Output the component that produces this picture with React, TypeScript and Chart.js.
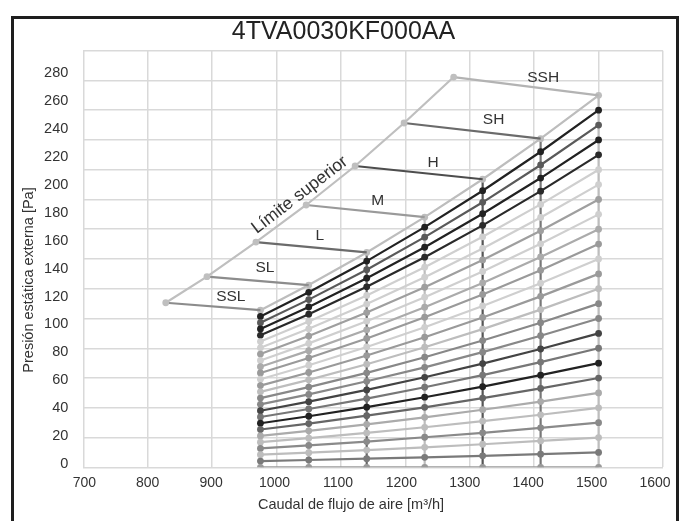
import React, { useEffect, useRef } from 'react';
import { Chart, registerables } from 'chart.js';

Chart.register(...registerables);

const FONT = '"Liberation Sans", Arial, Helvetica, sans-serif';

const chartTitle = '4TVA0030KF000AA';
const xAxisTitle = 'Caudal de flujo de aire [m³/h]';
const yAxisTitle = 'Presión estática externa [Pa]';

const xTicks = [700, 800, 900, 1000, 1100, 1200, 1300, 1400, 1500, 1600];
const yTicks = [0, 20, 40, 60, 80, 100, 120, 140, 160, 180, 200, 220, 240, 260, 280];

// airflow columns where every system curve has a point [m3/h]
const flowColumns = [975, 1050, 1140, 1230, 1320, 1410, 1500];

// system curves, bottom (0) to top, pressure [Pa] at each flow column
const systemCurves: number[][] = [
  [0, 0, 0, 0, 0, 0, 0],
  [4.2, 4.9, 5.8, 6.7, 7.7, 8.8, 10],
  [8.5, 9.8, 11.6, 13.4, 15.5, 17.7, 20],
  [12.7, 14.7, 17.3, 20.2, 23.2, 26.5, 30],
  [16.9, 19.6, 23.1, 26.9, 31.0, 35.3, 40],
  [21.1, 24.5, 28.9, 33.6, 38.7, 44.2, 50],
  [25.4, 29.4, 34.7, 40.3, 46.5, 53.0, 60],
  [29.6, 34.3, 40.4, 47.1, 54.2, 61.9, 70],
  [33.8, 39.2, 46.2, 53.8, 62.0, 70.7, 80],
  [38.0, 44.1, 52.0, 60.5, 69.7, 79.5, 90],
  [42.3, 49.0, 57.8, 67.2, 77.4, 88.4, 100],
  [46.5, 53.9, 63.5, 74.0, 85.2, 97.2, 110],
  [50.7, 58.8, 69.3, 80.7, 92.9, 106.0, 120],
  [54.9, 63.7, 75.1, 87.4, 100.7, 114.9, 130],
  [59.2, 68.6, 80.9, 94.1, 108.4, 123.7, 140],
  [63.4, 73.5, 86.6, 100.9, 116.2, 132.5, 150],
  [67.6, 78.4, 92.4, 107.6, 123.9, 141.4, 160],
  [71.8, 83.3, 98.2, 114.3, 131.6, 150.2, 170],
  [76.1, 88.2, 104.0, 121.0, 139.4, 159.0, 180],
  [80.3, 93.1, 109.7, 127.8, 147.1, 167.9, 190],
  [84.5, 98.0, 115.5, 134.5, 154.9, 176.7, 200],
  [88.7, 102.9, 121.3, 141.2, 162.6, 185.6, 210],
  [93.0, 107.8, 127.1, 147.9, 170.4, 194.4, 220],
  [97.2, 112.7, 132.8, 154.7, 178.1, 203.2, 230],
  [101.4, 117.6, 138.6, 161.4, 185.9, 212.1, 240],
  [105.6, 122.5, 144.4, 168.1, 193.6, 220.9, 250],
];

const curveColors = [
  '#9a9a9a', '#7a7a7a', '#bdbdbd', '#8a8a8a', '#bdbdbd', '#ababab', '#666666',
  '#222222', '#777777', '#444444', '#888888', '#888888', '#bdbdbd', '#9a9a9a',
  '#cfcfcf', '#9a9a9a', '#ababab', '#cfcfcf', '#9f9f9f', '#cfcfcf', '#cfcfcf',
  '#2a2a2a', '#222222', '#5a5a5a', '#222222', '#bdbdbd',
];

const columnColors = ['#999999', '#bdbdbd', '#666666', '#bdbdbd', '#555555', '#777777', '#bdbdbd'];

// upper limit ("Límite superior") points per fan speed
const speedNames = ['SSL', 'SL', 'L', 'M', 'H', 'SH', 'SSH'];
const limitFlow = [828, 892, 968, 1046, 1122, 1198, 1275];
const limitPressure = [110.6, 128.1, 151.4, 176.3, 202.5, 231.4, 262.3];
const connectorColors = ['#8c8c8c', '#8c8c8c', '#6b6b6b', '#9a9a9a', '#4d4d4d', '#6b6b6b', '#b3b3b3'];

// speed label anchors (data units)
const labelFlow = [929, 982, 1067, 1157, 1243, 1337, 1414];
const labelPressure = [114.4, 134, 155.4, 179, 204.5, 233.4, 261.6];

const limitCaption = 'Límite superior';
const limitCaptionFlow = 1036;
const limitCaptionPressure = 183;

const textPlugin = {
  id: 'customTexts',
  afterDatasetsDraw(chart: any) {
    const { ctx } = chart;
    const x = chart.scales.x;
    const y = chart.scales.y;
    ctx.save();
    ctx.textAlign = 'center';
    ctx.textBaseline = 'middle';
    // chart title
    ctx.fillStyle = '#222222';
    ctx.font = `25px ${FONT}`;
    ctx.fillText(chartTitle, 343.5, 32);
    ctx.fillStyle = '#333333';
    ctx.font = `15.5px ${FONT}`;
    speedNames.forEach((n, i) => {
      ctx.fillText(n, x.getPixelForValue(labelFlow[i]), y.getPixelForValue(labelPressure[i]));
    });
    // rotated caption along the limit line
    const ax = x.getPixelForValue(limitFlow[2]);
    const ay = y.getPixelForValue(limitPressure[2]);
    const bx = x.getPixelForValue(limitFlow[4]);
    const by = y.getPixelForValue(limitPressure[4]);
    const ang = Math.atan2(by - ay, bx - ax);
    ctx.save();
    ctx.translate(x.getPixelForValue(limitCaptionFlow), y.getPixelForValue(limitCaptionPressure));
    ctx.rotate(ang);
    ctx.font = `17.5px ${FONT}`;
    ctx.fillText(limitCaption, 0, 0);
    ctx.restore();
    // axis titles
    ctx.font = `14.5px ${FONT}`;
    ctx.fillText(xAxisTitle, 351, 505);
    ctx.save();
    ctx.translate(29, 280);
    ctx.rotate(-Math.PI / 2);
    ctx.fillText(yAxisTitle, 0, 0);
    ctx.restore();
    ctx.restore();
  },
};

export default function App() {
  const ref = useRef<HTMLCanvasElement>(null);
  useEffect(() => {
    const top = systemCurves[systemCurves.length - 1];
    const datasets: any[] = [];
    flowColumns.forEach((q, j) => {
      datasets.push({
        data: [{ x: q, y: 0 }, { x: q, y: top[j] }],
        borderColor: columnColors[j],
        backgroundColor: columnColors[j],
        borderWidth: 2.2,
        pointRadius: 0,
        showLine: true,
        order: 3,
      });
    });
    systemCurves.forEach((vals, k) => {
      datasets.push({
        data: flowColumns.map((q, j) => ({ x: q, y: vals[j] })),
        borderColor: curveColors[k],
        backgroundColor: curveColors[k],
        borderWidth: 2.2,
        pointRadius: 3.4,
        pointBorderWidth: 0,
        showLine: true,
        order: 2,
      });
    });
    speedNames.forEach((_, i) => {
      datasets.push({
        data: [
          { x: limitFlow[i], y: limitPressure[i] },
          { x: flowColumns[i], y: top[i] },
        ],
        borderColor: connectorColors[i],
        backgroundColor: connectorColors[i],
        borderWidth: 2.2,
        pointRadius: 0,
        showLine: true,
        order: 1,
      });
    });
    datasets.push({
      data: limitFlow.map((f, i) => ({ x: f, y: limitPressure[i] })),
      borderColor: '#bfbfbf',
      backgroundColor: '#bfbfbf',
      borderWidth: 2.2,
      pointRadius: 3.4,
      pointBorderWidth: 0,
      showLine: true,
      order: 0,
    });

    const chart = new Chart(ref.current as HTMLCanvasElement, {
      type: 'scatter',
      data: { datasets },
      options: {
        responsive: false,
        devicePixelRatio: 1,
        animation: false,
        events: [],
        elements: { line: { tension: 0 } },
        layout: { padding: { top: 50.7, right: 23, left: 0, bottom: 0 } },
        plugins: {
          legend: { display: false },
          tooltip: { enabled: false },
          title: { display: false },
        },
        scales: {
          x: {
            type: 'linear',
            position: 'bottom',
            min: 700,
            max: 1600,
            grid: { color: '#d9d9d9', lineWidth: 1.5, drawTicks: false },
            border: { display: false },
            ticks: { display: false },
            afterBuildTicks: (s: any) => { s.ticks = xTicks.map((v) => ({ value: v })); },
            afterFit: (s: any) => { s.height = 0; },
          },
          xl: {
            type: 'linear',
            position: 'bottom',
            min: 698.4,
            max: 1612.6,
            grid: { display: false, drawTicks: false },
            border: { display: false },
            ticks: {
              color: '#333333',
              font: { family: FONT, size: 14 },
              padding: 7.5,
              maxRotation: 0,
              autoSkip: false,
              callback: (v: any) => String(v),
            },
            afterBuildTicks: (s: any) => { s.ticks = xTicks.map((v) => ({ value: v })); },
            afterFit: (s: any) => { s.height = 53.7; },
          },
          y: {
            type: 'linear',
            position: 'left',
            min: 0,
            max: 280,
            grid: { color: '#d9d9d9', lineWidth: 1.5, drawTicks: false },
            border: { display: false },
            ticks: { display: false },
            afterBuildTicks: (s: any) => { s.ticks = yTicks.map((v) => ({ value: v })); },
            afterFit: (s: any) => { s.width = 0; },
          },
          yl: {
            type: 'linear',
            position: 'left',
            min: -2.37,
            max: 296.2,
            grid: { display: false, drawTicks: false },
            border: { display: false },
            ticks: {
              color: '#333333',
              font: { family: FONT, size: 14.5 },
              padding: 15,
              autoSkip: false,
              callback: (v: any) => String(v),
            },
            afterBuildTicks: (s: any) => { s.ticks = yTicks.map((v) => ({ value: v })); },
            afterFit: (s: any) => { s.width = 83.3; },
          },
        },
      } as any,
      plugins: [textPlugin],
    });
    return () => chart.destroy();
  }, []);

  return (
    <div style={{ position: 'absolute', left: 0, top: 0, width: 686, height: 521, overflow: 'hidden', background: '#ffffff' }}>
      <div
        style={{
          position: 'absolute',
          left: 11,
          top: 16,
          width: 668,
          height: 540,
          border: '3px solid #1e1e1e',
          boxSizing: 'border-box',
        }}
      />
      <canvas
        ref={ref}
        width={686}
        height={521}
        style={{ position: 'absolute', left: 0, top: 0, width: 686, height: 521, display: 'block' }}
      />
    </div>
  );
}
